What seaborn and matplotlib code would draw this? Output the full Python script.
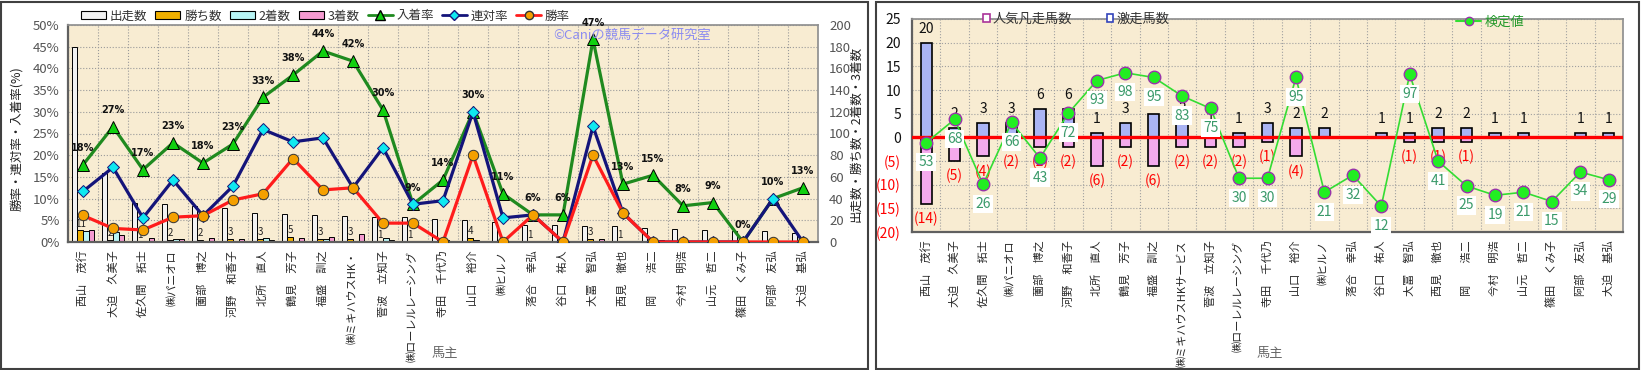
import numpy as np
import pandas as pd
import seaborn as sns
import matplotlib.pyplot as plt
from matplotlib.patches import Patch, Rectangle
from matplotlib.lines import Line2D

# owners (left chart has a truncated name)
owners_left = ['西山　茂行', '大迫　久美子', '佐久間　拓士', '㈱パニオロ', '薗部　博之', '河野　和香子',
               '北所　直人', '鶴見　芳子', '福盛　訓之', '㈱ミキハウスHK・', '菅波　立知子',
               '㈱ローレルレーシング', '寺田　千代乃', '山口　裕介', '㈱ヒルノ', '落合　幸弘',
               '谷口　祐人', '大冨　智弘', '西見　徹也', '岡　　浩二', '今村　明浩', '山元　哲二',
               '篠田　くみ子', '阿部　友弘', '大迫　基弘']
owners_right = owners_left[:9] + ['㈱ミキハウスHKサービス'] + owners_left[10:]

# left chart counts
runs = [180, 64, 36, 35, 33, 31, 27, 26, 25, 24, 23, 23, 21, 20, 18, 16, 16, 15, 15, 13, 12, 11, 10, 10, 8]
wins = [11, 2, 1, 2, 2, 3, 3, 5, 3, 3, 1, 1, 0, 4, 0, 1, 0, 3, 1, 0, 0, 0, 0, 0, 0]
seconds = [10, 9, 1, 3, 0, 1, 4, 1, 3, 0, 4, 1, 2, 2, 1, 0, 0, 1, 0, 0, 0, 0, 0, 1, 0]
thirds = [11, 6, 4, 3, 4, 3, 2, 4, 5, 7, 2, 0, 1, 0, 1, 0, 1, 3, 1, 2, 1, 1, 0, 0, 1]

# right chart
gekisou = [20, 2, 3, 3, 6, 6, 1, 3, 5, 3, 1, 1, 3, 2, 2, 0, 1, 1, 2, 2, 1, 1, 0, 1, 1]
bonsou = [14, 5, 4, 2, 2, 2, 6, 2, 6, 2, 2, 2, 1, 4, 0, 0, 0, 1, 1, 1, 0, 0, 0, 0, 0]
kentei = [53, 68, 26, 66, 43, 72, 93, 98, 95, 83, 75, 30, 30, 95, 21, 32, 12, 97, 41, 25, 19, 21, 15, 34, 29]

kinds = ['出走数', '勝ち数', '2着数', '3着数']
bar_colors = ['#f2f2f2', '#f0b000', '#b8f4f4', '#f49ad0']

sns.set_theme(style='white')
plt.rcParams['font.family'] = ['Noto Sans CJK JP', 'DejaVu Sans']

W, H = 1641, 370
fig = plt.figure(figsize=(W / 100, H / 100), dpi=100)
bg = '#f8ecd2'


def fr(x0, y0, x1, y1):
    return [x0 / W, 1 - y1 / H, (x1 - x0) / W, (y1 - y0) / H]


# ---------------- left chart ----------------
ax = fig.add_axes(fr(68, 25, 818, 242))
ax.set_facecolor(bg)
df = pd.DataFrame({'owner': owners_left, '出走数': runs, '勝ち数': wins, '2着数': seconds, '3着数': thirds})
long = df.melt(id_vars='owner', var_name='kind', value_name='count')
sns.barplot(data=long, x='owner', y='count', hue='kind', order=owners_left, hue_order=kinds,
            palette=bar_colors, saturation=1, width=0.76, edgecolor='black', linewidth=0.7,
            ax=ax, legend=False)
ax.set_xlim(-0.5, 24.5)
ax.set_ylim(0, 200)
ax.set_yticks(range(0, 201, 20))
ax.set_xlabel('')
ax.set_ylabel('')
ax.set_xticks(range(25))
ax.set_xticklabels(owners_left, rotation=90, fontsize=8)
ax.set_xticks(np.arange(-0.5, 25, 1), minor=True)
ax.tick_params(axis='x', which='major', length=0, pad=6)
ax.tick_params(axis='x', which='minor', length=3, color='#555')
ax.grid(axis='y', which='major', linestyle=':', color='#9a9a9a', linewidth=0.8)
ax.grid(axis='x', which='minor', linestyle=':', color='#9a9a9a', linewidth=0.8)
ax.set_axisbelow(True)
for s in ax.spines.values():
    s.set_color('#909090')
ax.spines['left'].set_color('#606060')
ax.spines['left'].set_linewidth(1.6)
ax.spines['bottom'].set_color('#606060')
ax.spines['bottom'].set_linewidth(1.6)

# win count labels above win bars
for i, w in enumerate(wins):
    if w > 0:
        ax.annotate(str(w), (i - 0.095, w), xytext=(0, 1), textcoords='offset points',
                    ha='center', va='bottom', fontsize=7, color='#222')

pos = np.arange(25)
rate3 = np.array([(w + s + t) / r * 100 for w, s, t, r in zip(wins, seconds, thirds, runs)])
rate2 = np.array([(w + s) / r * 100 for w, s, r in zip(wins, seconds, runs)])
rate1 = np.array([w / r * 100 for w, r in zip(wins, runs)])

ax2 = ax.twinx()
# counts on the right, rates on the left
ax.yaxis.tick_right()
ax.tick_params(axis='y', length=0, pad=8, labelsize=9.5, labelcolor='#555',
               left=False, labelleft=False, right=True, labelright=True)
ax2.yaxis.tick_left()
ax2.tick_params(axis='y', length=0, pad=6, labelsize=9.5, labelcolor='#555',
                right=False, labelright=False, left=True, labelleft=True)
sns.lineplot(x=pos, y=rate3, ax=ax2, color='#1f8a1f', linewidth=2.3, marker='^', markersize=9,
             markerfacecolor='#10d010', markeredgecolor='black', markeredgewidth=0.7)
sns.lineplot(x=pos, y=rate2, ax=ax2, color='#14147a', linewidth=2.3, marker='D', markersize=6,
             markerfacecolor='#10e8f0', markeredgecolor='#14147a', markeredgewidth=0.7)
sns.lineplot(x=pos, y=rate1, ax=ax2, color='#ff1c1c', linewidth=2.3, marker='o', markersize=7.5,
             markerfacecolor='#f5a000', markeredgecolor='#333', markeredgewidth=0.7)
ax2.set_ylim(0, 50)
ax2.set_yticks(range(0, 51, 5))
ax2.set_yticklabels([f'{v}%' for v in range(0, 51, 5)])
ax2.set_xlim(-0.5, 24.5)
for s in ax2.spines.values():
    s.set_visible(False)

for i, v in enumerate(rate3):
    ax2.annotate(f'{int(np.floor(v + 0.5))}%', (i, v), xytext=(0, 12), textcoords='offset points',
                 ha='center', va='center', fontsize=7, fontweight='bold', color='#111',
                 family='DejaVu Sans', annotation_clip=False)

fig.text(632 / W, 1 - 35 / H, '©Caniの競馬データ研究室', ha='center', va='center',
         fontsize=9.5, color='#8c8cf0')

handles = [Patch(facecolor=c, edgecolor='black', linewidth=0.8) for c in bar_colors] + [
    Line2D([], [], color='#1f8a1f', lw=2, marker='^', markersize=7, markerfacecolor='#10d010', markeredgecolor='black'),
    Line2D([], [], color='#14147a', lw=2, marker='D', markersize=5, markerfacecolor='#10e8f0'),
    Line2D([], [], color='#ff1c1c', lw=2, marker='o', markersize=6, markerfacecolor='#f5a000', markeredgecolor='#333')]
labels = kinds + ['入着率', '連対率', '勝率']
leg = fig.legend(handles, labels, loc='center left', bbox_to_anchor=(81 / W, 1 - 16 / H), ncol=7,
                 frameon=False, fontsize=9, handlelength=2.0, handleheight=0.55, handletextpad=0.3,
                 columnspacing=0.65, borderpad=0, borderaxespad=0)
for t in leg.get_texts():
    t.set_color('#333')

fig.text(17 / W, 1 - 139 / H, '勝率・連対率・入着率(%)', rotation=90, ha='center', va='center',
         fontsize=9, color='#222')
fig.text(856 / W, 1 - 134 / H, '出走数・勝ち数・2着数・3着数', rotation=90, ha='center', va='center',
         fontsize=9, color='#222')
fig.text(445 / W, 1 - 353 / H, '馬主', ha='center', va='center', fontsize=9.5, color='#666')

# ---------------- right chart ----------------
axr = fig.add_axes(fr(912, 19, 1623, 232))
axr.set_facecolor(bg)
sns.barplot(x=owners_right, y=gekisou, color='#aab4f4', saturation=1, width=0.4,
            edgecolor='black', linewidth=1.2, ax=axr)
sns.barplot(x=owners_right, y=[-v for v in bonsou], color='#f4aaec', saturation=1, width=0.4,
            edgecolor='black', linewidth=1.2, ax=axr)
axr.axhline(0, color='#ff0000', linewidth=2.4, zorder=5)
axr.set_xlim(-0.5, 24.5)
axr.set_ylim(-20, 25)
yt = list(range(-20, 26, 5))
axr.set_yticks(yt)
axr.set_yticklabels([str(v) if v >= 0 else f'({-v})' for v in yt])
for lab, v in zip(axr.get_yticklabels(), yt):
    lab.set_color('#ff0000' if v < 0 else '#111')
axr.tick_params(axis='y', length=0, pad=8, labelsize=10)
axr.set_xticks(range(25))
axr.set_xticklabels(owners_right, rotation=90, fontsize=8)
axr.set_xticks(np.arange(-0.5, 25, 1), minor=True)
axr.tick_params(axis='x', which='both', length=0, pad=6)
axr.grid(axis='y', which='major', linestyle=':', color='#a0a0a0', linewidth=0.8)
axr.grid(axis='x', which='minor', linestyle=':', color='#a0a0a0', linewidth=0.8)
axr.set_axisbelow(True)
axr.set_xlabel('')
for s in axr.spines.values():
    s.set_color('#909090')
axr.spines['left'].set_color('#606060')
axr.spines['left'].set_linewidth(1.6)
axr.spines['bottom'].set_color('#606060')
axr.spines['bottom'].set_linewidth(1.6)

for i, (g, b) in enumerate(zip(gekisou, bonsou)):
    if g > 0:
        axr.annotate(str(g), (i, g), xytext=(0, 10), textcoords='offset points',
                     ha='center', va='center', fontsize=10, color='#111')
    if b > 0:
        axr.annotate(f'({b})', (i, -b), xytext=(0, -11), textcoords='offset points',
                     ha='center', va='center', fontsize=10, color='#ff0000')

axr2 = axr.twinx()
sns.lineplot(x=pos, y=kentei, ax=axr2, color='#33dd33', linewidth=1.2, marker='o', markersize=9,
             markerfacecolor='#22ee22', markeredgecolor='#9933aa', markeredgewidth=1)
axr2.set_ylim(-4.67, 132.7)
axr2.set_xlim(-0.5, 24.5)
axr2.set_yticks([])
for s in axr2.spines.values():
    s.set_visible(False)
for i, v in enumerate(kentei):
    axr2.annotate(str(v), (i, v), xytext=(0, -14), textcoords='offset points', ha='center',
                  va='center', fontsize=10, color='#3a9a6a',
                  bbox=dict(facecolor='white', edgecolor='none', pad=1.5))

leg1 = fig.legend([Patch(facecolor='white', edgecolor='#aa3399', linewidth=1.2),
                   Patch(facecolor='white', edgecolor='#3344bb', linewidth=1.2)],
                  ['人気凡走馬数', '激走馬数'], loc='center left',
                  bbox_to_anchor=(983 / W, 1 - 19 / H), ncol=2, frameon=False, fontsize=9.5,
                  handlelength=0.5, handleheight=0.5, handletextpad=0.25, columnspacing=2.6,
                  borderpad=0, borderaxespad=0)
for t in leg1.get_texts():
    t.set_color('#333')
leg2 = fig.legend([Line2D([], [], color='#33dd33', lw=1.5, marker='o', markersize=6,
                          markerfacecolor='#22ee22', markeredgecolor='#9933aa')],
                  ['検定値'], loc='center left', bbox_to_anchor=(1456 / W, 1 - 22 / H),
                  frameon=False, fontsize=9.5, handlelength=1.9, handletextpad=0.3,
                  borderpad=0, borderaxespad=0)
leg2.get_texts()[0].set_color('#22992a')

fig.text(1270 / W, 1 - 353 / H, '馬主', ha='center', va='center', fontsize=9.5, color='#666')

# panel borders
fig.add_artist(Rectangle((1 / W, 1 / H), 867 / W, 367 / H, transform=fig.transFigure,
                         fill=False, edgecolor='#404040', linewidth=1.5))
fig.add_artist(Rectangle((876 / W, 1 / H), 763 / W, 367 / H, transform=fig.transFigure,
                         fill=False, edgecolor='#404040', linewidth=1.5))

fig.savefig('out.png', dpi=100, facecolor='white')
